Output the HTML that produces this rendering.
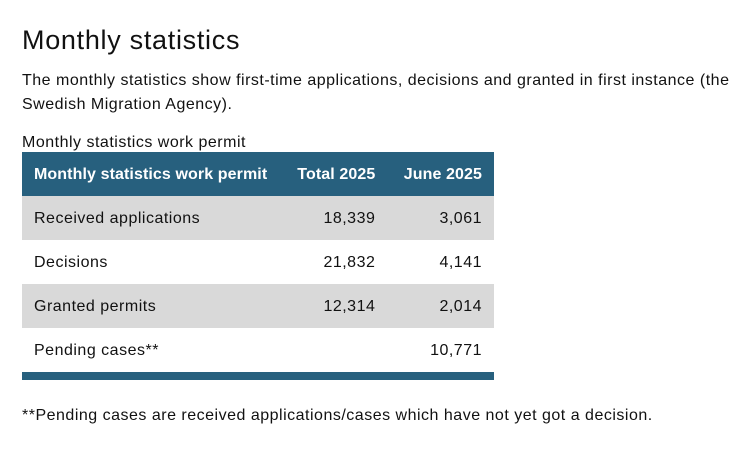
<!DOCTYPE html>
<html><head><meta charset="utf-8"><style>
body{margin:0;width:753px;height:449px;background:#fff;font-family:"Liberation Sans",sans-serif;color:#111;position:relative;overflow:hidden;letter-spacing:0.5px}
.a{position:absolute;white-space:nowrap}
h1{position:absolute;left:22px;top:22px;margin:0;font-size:27px;font-weight:normal;line-height:36px;letter-spacing:0.7px}
table{position:absolute;left:22px;top:152px;width:472px;border-collapse:collapse;font-size:16px}
th{background:#27607e;color:#fff;height:42px;padding:2px 12px 0;font-weight:bold;text-align:right;letter-spacing:0.1px}
td{height:42px;padding:2px 12px 0;text-align:right}
th:first-child,td:first-child{text-align:left}
tr.g td{background:#d9d9d9}
.bar{position:absolute;left:22px;top:372px;width:472px;height:8px;background:#27607e}
</style></head><body>
<h1>Monthly statistics</h1>
<div class="a" style="left:22px;top:69px;font-size:16px;line-height:24px">The monthly statistics show first-time applications, decisions and granted in first instance (the<br>Swedish Migration Agency).</div>
<div class="a" style="left:22px;top:133px;font-size:16px;line-height:20px">Monthly statistics work permit</div>
<table>
<tr><th style="width:235px">Monthly statistics work permit</th><th>Total 2025</th><th>June 2025</th></tr>
<tr class="g"><td>Received applications</td><td>18,339</td><td>3,061</td></tr>
<tr><td>Decisions</td><td>21,832</td><td>4,141</td></tr>
<tr class="g"><td>Granted permits</td><td>12,314</td><td>2,014</td></tr>
<tr><td>Pending cases**</td><td></td><td>10,771</td></tr>
</table>
<div class="bar"></div>
<div class="a" style="left:22px;top:406px;font-size:16px;line-height:20px">**Pending cases are received applications/cases which have not yet got a decision.</div>
</body></html>
